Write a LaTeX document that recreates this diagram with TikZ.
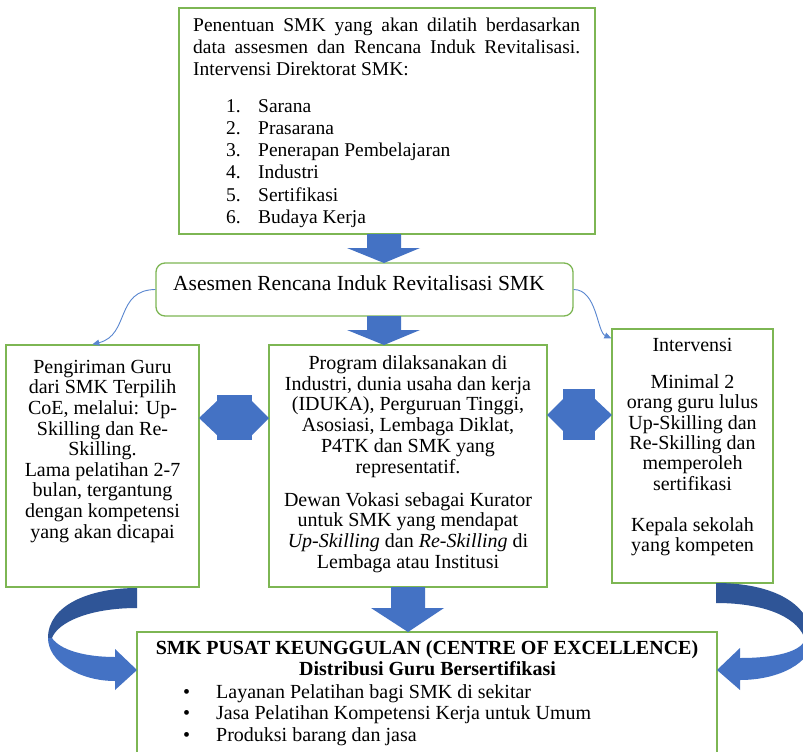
\documentclass[tikz,border=0pt]{standalone}
\usepackage{fontspec}
\setmainfont{Liberation Serif}
\usetikzlibrary{arrows.meta,calc}
\definecolor{boxgreen}{HTML}{7DB653}
\definecolor{arrblue}{HTML}{4472C4}
\definecolor{arrdark}{HTML}{2F5597}
\definecolor{linkblue}{HTML}{5A87D0}
\begin{document}
\begin{tikzpicture}[x=1pt,y=-1pt,
  box/.style={draw=boxgreen,line width=1.3pt,inner sep=0pt},
  txt/.style={inner sep=0pt,font=\fontsize{20}{20.6}\selectfont,align=center},
  blockarrow/.style={fill=arrblue,draw=none},
  darkribbon/.style={fill=arrdark,draw=none},
  link/.style={draw=linkblue,line width=0.9pt,-{Triangle[length=7pt,width=6pt]}}]
\fill[white] (0,0) rectangle (803,752);
\useasboundingbox (0,0) rectangle (803,752);
\clip (0,0) rectangle (803,752);

% boxes
\node[box,minimum width=416pt,minimum height=226pt] (topbox) at (387,121) {};
\node[box,rounded corners=9pt,minimum width=417pt,minimum height=53pt] (ases) at (364.5,289.5) {};
\node[box,minimum width=193pt,minimum height=242pt] (leftbox) at (102.5,466) {};
\node[box,minimum width=278pt,minimum height=242pt] (midbox) at (408,466) {};
\node[box,minimum width=161pt,minimum height=254pt] (rightbox) at (692.5,456) {};
\node[box,minimum width=580pt,minimum height=128pt] (cebox) at (427,696) {};

% block arrows down
\fill[blockarrow] (367,234) -- (401,234) -- (401,248) -- (420,248) -- (384,263) -- (347,248) -- (367,248) -- cycle;
\fill[blockarrow] (367,316) -- (401,316) -- (401,330) -- (420,330) -- (384,345) -- (347,330) -- (367,330) -- cycle;
\fill[blockarrow] (391,587) -- (425,587) -- (425,608) -- (444,608) -- (408,632) -- (371,608) -- (391,608) -- cycle;

% double arrows
\fill[blockarrow] (217,395) rectangle (252,440);
\fill[blockarrow] (199,418) -- (217,401) -- (217,435) -- cycle;
\fill[blockarrow] (269,418) -- (252,401) -- (252,435) -- cycle;
\fill[blockarrow] (563,389) rectangle (595,440);
\fill[blockarrow] (547,415) -- (563,399) -- (563,431) -- cycle;
\fill[blockarrow] (612,415) -- (595,399) -- (595,431) -- cycle;

% curved arrow left
\fill[darkribbon] (137,588) .. controls (90,588) and (48,605) .. (48,638) -- (52,638) .. controls (58,622) and (90,608) .. (137,608) -- cycle;
\fill[blockarrow] (48,638) .. controls (48,662) and (80,681) .. (115,681) -- (115,690) -- (137,670) -- (115,649) -- (115,657) .. controls (85,657) and (60,650) .. (52,638) -- cycle;

% curved arrow right
\fill[darkribbon] (716,583) .. controls (775,583) and (812,605) .. (812,640) -- (805,640) .. controls (800,620) and (770,603) .. (716,603) -- cycle;
\fill[blockarrow] (812,640) .. controls (812,662) and (780,680) .. (740,680) -- (740,690) -- (717,670) -- (740,648) -- (740,658) .. controls (775,658) and (800,652) .. (805,640) -- cycle;

% thin links
\coordinate (lend) at ($(leftbox.north west)+(87,0)$);
\draw[link] (ases.west) .. controls (115,290) and (130,335) .. (lend);
\coordinate (rend) at ($(rightbox.north west)+(0,10)$);
\draw[link] (ases.east) .. controls (597,289.5) and (597,332) .. (rend);

% texts
\node[txt,anchor=north west,text width=387pt,align=justify,font=\fontsize{19.5}{22.2}\selectfont] (toptext) at (193,17)
 {\rule{0pt}{14pt}Penentuan SMK yang akan dilatih berdasarkan\linebreak data assesmen dan Rencana Induk Revitalisasi.\linebreak Intervensi Direktorat SMK:};
\node[txt,anchor=north west,align=left,font=\fontsize{19.5}{22.2}\selectfont] (toplist) at (226,98)
 {\rule{0pt}{14pt}\makebox[32pt][l]{1.}Sarana\\
  \makebox[32pt][l]{2.}Prasarana\\
  \makebox[32pt][l]{3.}Penerapan Pembelajaran\\
  \makebox[32pt][l]{4.}Industri\\
  \makebox[32pt][l]{5.}Sertifikasi\\
  \makebox[32pt][l]{6.}Budaya Kerja};

\node[anchor=base west,inner sep=0pt,font=\fontsize{21.5}{24}\selectfont] (asestext) at (173,290) {Asesmen Rencana Induk Revitalisasi SMK};

\node[txt,anchor=north] (lefttext) at (102.5,359)
 {\rule{0pt}{14pt}Pengiriman Guru\\ dari SMK Terpilih\\ CoE, melalui: Up-\\ Skilling dan Re-\\ Skilling.\\ Lama pelatihan 2-7\\ bulan, tergantung\\ dengan kompetensi\\ yang akan dicapai};

\node[txt,anchor=north,font=\fontsize{20}{20.8}\selectfont] (midtext) at (408,355)
 {\rule{0pt}{14pt}Program dilaksanakan di\\ Industri, dunia usaha dan kerja\\ (IDUKA), Perguruan Tinggi,\\ Asosiasi, Lembaga Diklat,\\ P4TK dan SMK yang\\ representatif.\\[12pt]
  Dewan Vokasi sebagai Kurator\\ untuk SMK yang mendapat\\ \textit{Up-Skilling} dan \textit{Re-Skilling} di\\ Lembaga atau Institusi};

\node[txt,anchor=north,font=\fontsize{20}{20.4}\selectfont] (righttext) at (692.5,337)
 {\rule{0pt}{14pt}Intervensi\\[16.6pt] Minimal 2\\ orang guru lulus\\ Up-Skilling dan\\ Re-Skilling dan\\ memperoleh\\ sertifikasi\\[20.6pt] Kepala sekolah\\ yang kompeten};

\node[anchor=base,inner sep=0pt,font=\fontsize{20}{22}\selectfont\bfseries] (cetitle) at (427,654) {SMK PUSAT KEUNGGULAN (CENTRE OF EXCELLENCE)};
\node[anchor=base,inner sep=0pt,font=\fontsize{20}{22}\selectfont\bfseries] (cesub) at (427.5,675) {Distribusi Guru Bersertifikasi};
\node[txt,anchor=north west,align=left,font=\fontsize{20}{21.5}\selectfont] (celist) at (183,684)
 {\rule{0pt}{14pt}\makebox[33pt][l]{•}Layanan Pelatihan bagi SMK di sekitar\\
  \makebox[33pt][l]{•}Jasa Pelatihan Kompetensi Kerja untuk Umum\\
  \makebox[33pt][l]{•}Produksi barang dan jasa};
\end{tikzpicture}
\end{document}
